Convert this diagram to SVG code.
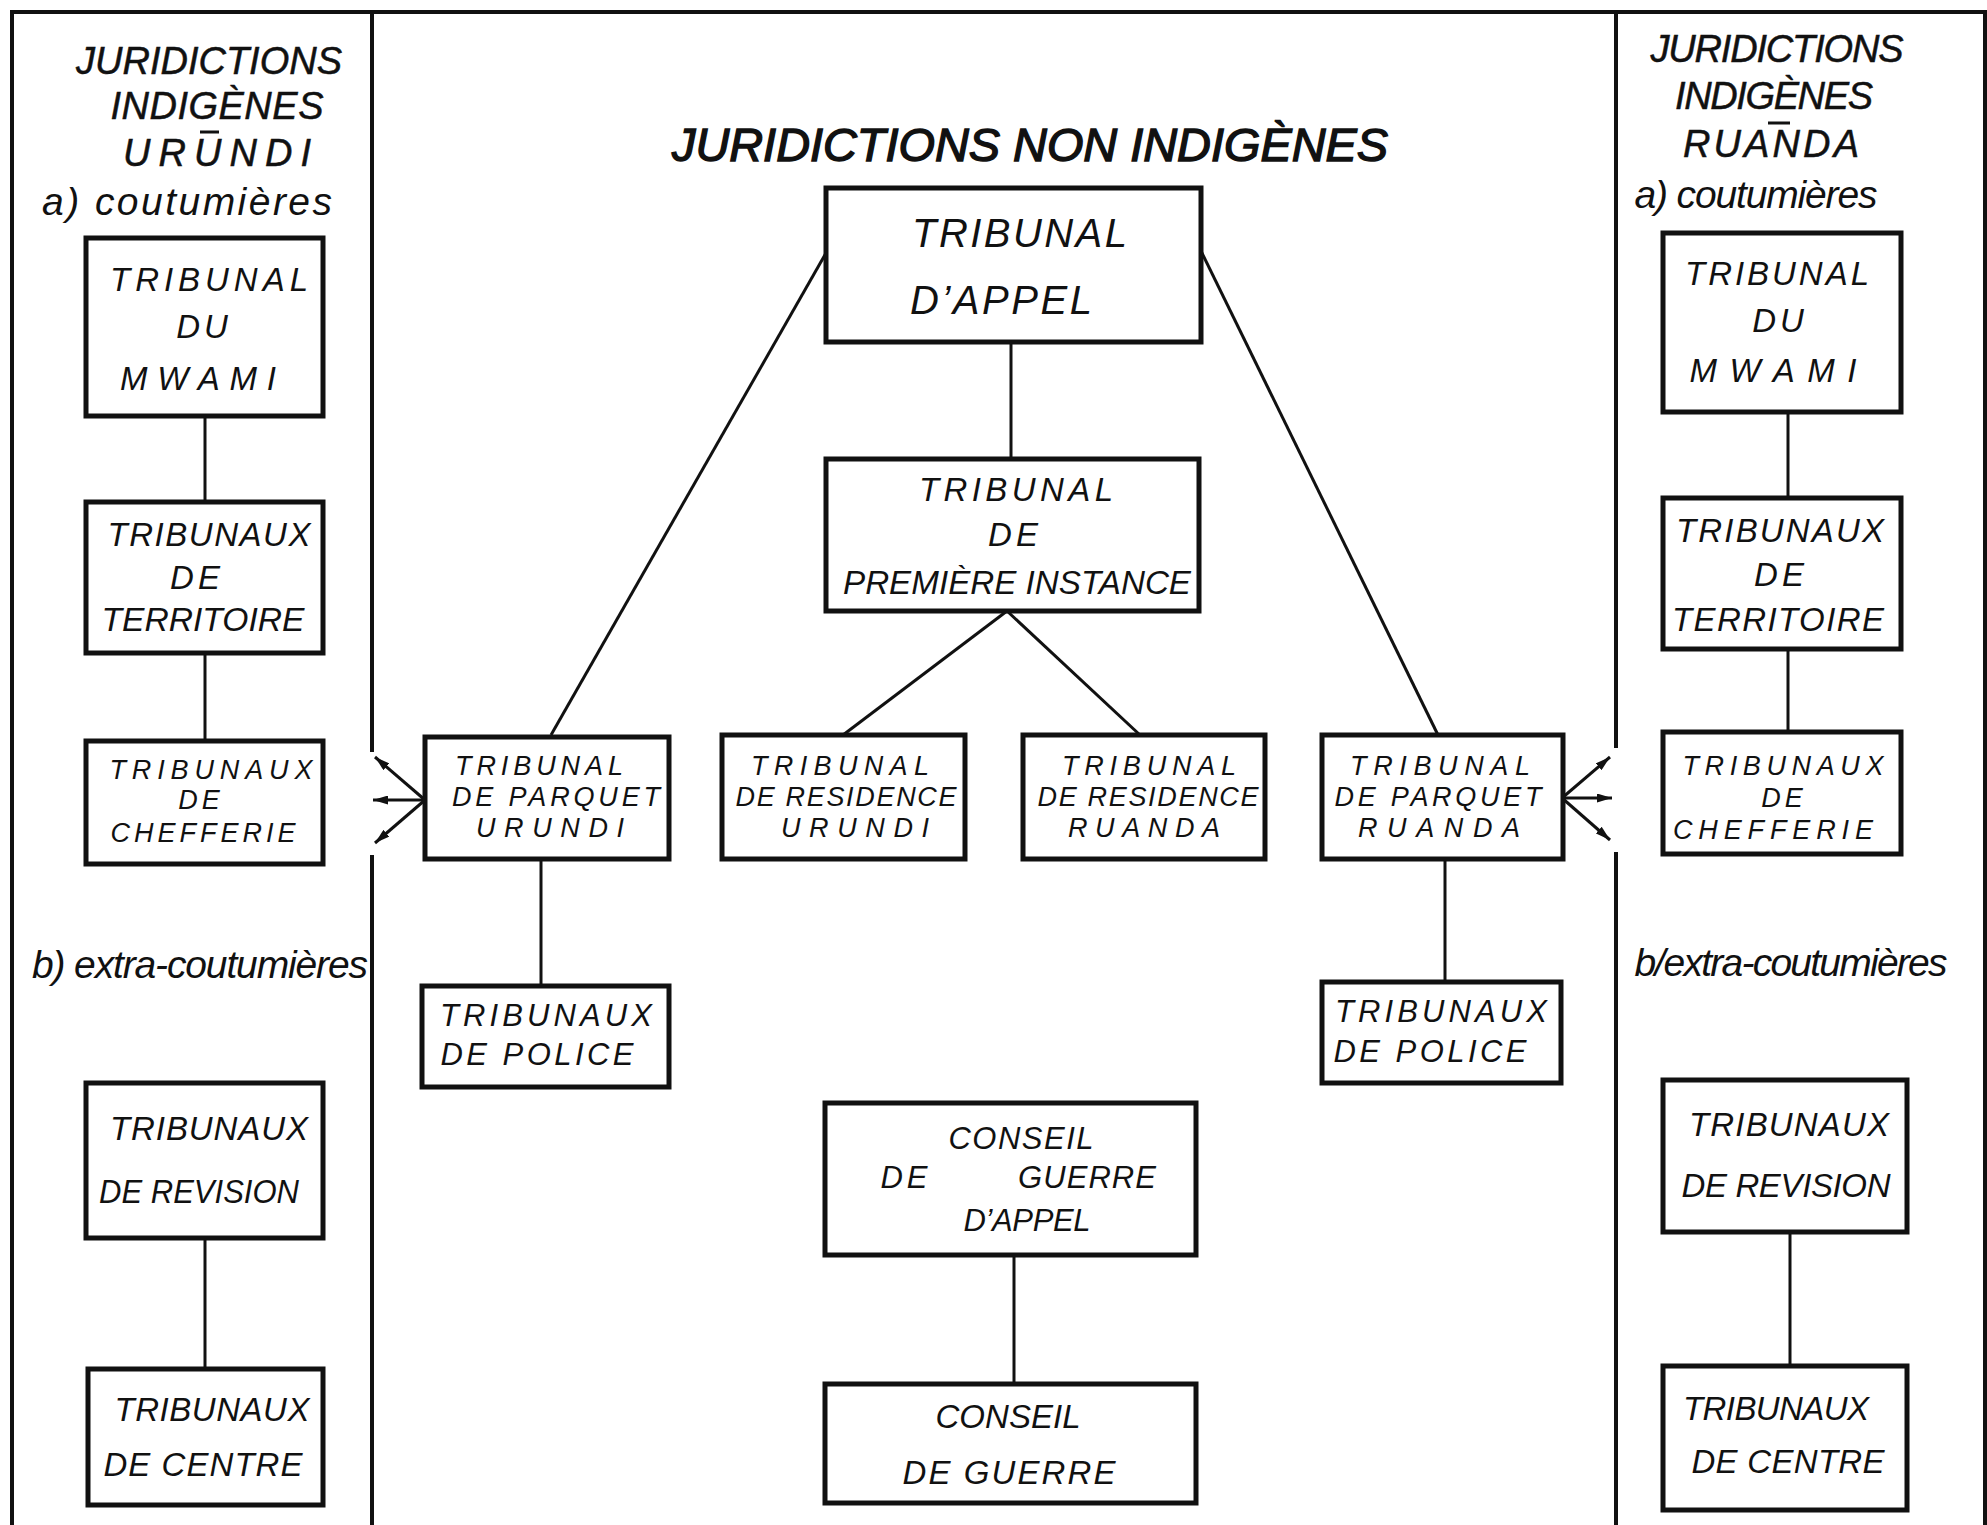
<svg xmlns="http://www.w3.org/2000/svg" width="1987" height="1525" viewBox="0 0 1987 1525">
<style>
.bg{fill:#fff}
.frame{stroke:#111;stroke-width:4;fill:none}
.box{fill:#fff;stroke:#111;stroke-width:5}
.ln{stroke:#111;stroke-width:3;fill:none}
.t{font-family:"Liberation Sans",Arial,sans-serif;font-style:italic;font-size:33px;fill:#111;text-anchor:middle}
.c{font-size:27px}
.m{font-size:31px}
.s{letter-spacing:4px}
.tb{font-size:40px;text-anchor:start}
.title{font-family:"Liberation Sans",Arial,sans-serif;font-style:italic;font-size:46px;fill:#111;text-anchor:middle;stroke:#111;stroke-width:1.4}
.ct{font-family:"Liberation Sans",Arial,sans-serif;font-style:italic;font-size:38px;fill:#111;text-anchor:middle;stroke:#111;stroke-width:0.5}
.lc{font-family:"Liberation Sans",Arial,sans-serif;font-style:italic;font-size:39px;fill:#111;text-anchor:middle}
</style>
<defs>
<marker id="ah" viewBox="0 0 10 6" refX="10" refY="3" markerWidth="5" markerHeight="3" orient="auto" markerUnits="strokeWidth">
<path d="M0,0 L10,3 L0,6 Z" fill="#111"/>
</marker>
</defs>
<rect class="bg" x="0" y="0" width="1987" height="1525"/>

<g id="frame">
<path class="frame" d="M12,1525 V12 H1985 V1525"/>
<path class="frame" d="M372,12 V752 M372,855 V1525"/>
<path class="frame" d="M1616,12 V748 M1616,852 V1525"/>
</g>

<g id="headings">
<text class="title" x="1030" y="161" textLength="716" lengthAdjust="spacingAndGlyphs">JURIDICTIONS NON INDIGÈNES</text>
<text class="ct" x="209" y="74" textLength="266">JURIDICTIONS</text>
<text class="ct" x="217" y="119" textLength="213">INDIGÈNES</text>
<line class="ln" x1="200" y1="132" x2="219" y2="132" stroke-width="2.5"/>
<text class="ct" x="217" y="166" textLength="188">URUNDI</text>
<text class="lc" x="187" y="215" textLength="290">a) coutumières</text>
<text class="lc" x="200" y="978" font-size="36" textLength="336">b) extra-coutumières</text>
<text class="ct" x="1777" y="62" textLength="253">JURIDICTIONS</text>
<text class="ct" x="1774" y="109" textLength="198">INDIGÈNES</text>
<line class="ln" x1="1768" y1="123" x2="1790" y2="123" stroke-width="2.5"/>
<text class="ct" x="1771" y="157" textLength="176">RUANDA</text>
<text class="lc" x="1756" y="208" textLength="243">a) coutumières</text>
<text class="lc" x="1791" y="976" font-size="35" textLength="313">b/extra-coutumières</text>
</g>

<g id="connectors">
<line class="ln" x1="205" y1="416" x2="205" y2="502"/>
<line class="ln" x1="205" y1="653" x2="205" y2="741"/>
<line class="ln" x1="205" y1="1238" x2="205" y2="1369"/>
<line class="ln" x1="1788" y1="412" x2="1788" y2="498"/>
<line class="ln" x1="1788" y1="649" x2="1788" y2="732"/>
<line class="ln" x1="1790" y1="1232" x2="1790" y2="1366"/>
<line class="ln" x1="1011" y1="342" x2="1011" y2="459"/>
<line class="ln" x1="1007" y1="611" x2="843" y2="735"/>
<line class="ln" x1="1007" y1="611" x2="1140" y2="735"/>
<line class="ln" x1="826" y1="253" x2="551" y2="735"/>
<line class="ln" x1="1201" y1="251" x2="1438" y2="735"/>
<line class="ln" x1="541" y1="859" x2="541" y2="986"/>
<line class="ln" x1="1445" y1="859" x2="1445" y2="982"/>
<line class="ln" x1="1014" y1="1255" x2="1014" y2="1384"/>
<line class="ln" x1="425" y1="800" x2="375" y2="757" marker-end="url(#ah)"/>
<line class="ln" x1="425" y1="800" x2="373" y2="800" marker-end="url(#ah)"/>
<line class="ln" x1="425" y1="800" x2="375" y2="843" marker-end="url(#ah)"/>
<line class="ln" x1="1562" y1="798" x2="1610" y2="757" marker-end="url(#ah)"/>
<line class="ln" x1="1562" y1="798" x2="1612" y2="798" marker-end="url(#ah)"/>
<line class="ln" x1="1562" y1="798" x2="1610" y2="840" marker-end="url(#ah)"/>
</g>

<g id="n-mwami-urundi">
<rect class="box" x="86" y="238" width="237" height="178"/>
<text class="t" x="209" y="291" textLength="198">TRIBUNAL</text>
<text class="t s" x="204" y="338">DU</text>
<text class="t" x="198" y="390" textLength="156">MWAMI</text>
</g>
<g id="n-territoire-urundi">
<rect class="box" x="86" y="502" width="237" height="151"/>
<text class="t" x="209" y="546" textLength="203">TRIBUNAUX</text>
<text class="t s" x="197" y="589">DE</text>
<text class="t" x="203" y="631" textLength="203" lengthAdjust="spacingAndGlyphs">TERRITOIRE</text>
</g>
<g id="n-chefferie-urundi">
<rect class="box" x="86" y="741" width="237" height="123"/>
<text class="t c" x="211" y="779" textLength="203">TRIBUNAUX</text>
<text class="t c s" x="201" y="809">DE</text>
<text class="t c" x="203" y="842" textLength="185">CHEFFERIE</text>
</g>
<g id="n-revision-urundi">
<rect class="box" x="86" y="1083" width="237" height="155"/>
<text class="t" x="209" y="1140" textLength="198">TRIBUNAUX</text>
<text class="t" x="199" y="1203" textLength="200" lengthAdjust="spacingAndGlyphs">DE REVISION</text>
</g>
<g id="n-centre-urundi">
<rect class="box" x="88" y="1369" width="235" height="136"/>
<text class="t" x="212" y="1421" textLength="195">TRIBUNAUX</text>
<text class="t" x="203" y="1476" textLength="199">DE CENTRE</text>
</g>

<g id="n-mwami-ruanda">
<rect class="box" x="1663" y="233" width="238" height="179"/>
<text class="t" x="1777" y="285" textLength="184">TRIBUNAL</text>
<text class="t s" x="1780" y="332">DU</text>
<text class="t" x="1773" y="382" textLength="167">MWAMI</text>
</g>
<g id="n-territoire-ruanda">
<rect class="box" x="1663" y="498" width="238" height="151"/>
<text class="t" x="1780" y="542" textLength="208">TRIBUNAUX</text>
<text class="t s" x="1781" y="586">DE</text>
<text class="t" x="1778" y="631" textLength="212">TERRITOIRE</text>
</g>
<g id="n-chefferie-ruanda">
<rect class="box" x="1663" y="732" width="238" height="122"/>
<text class="t c" x="1783" y="775" textLength="201">TRIBUNAUX</text>
<text class="t c s" x="1784" y="807">DE</text>
<text class="t c" x="1773" y="839" textLength="200">CHEFFERIE</text>
</g>
<g id="n-revision-ruanda">
<rect class="box" x="1663" y="1080" width="244" height="152"/>
<text class="t" x="1789" y="1136" textLength="200">TRIBUNAUX</text>
<text class="t" x="1786" y="1197" textLength="209">DE REVISION</text>
</g>
<g id="n-centre-ruanda">
<rect class="box" x="1663" y="1366" width="244" height="144"/>
<text class="t" x="1776" y="1420" textLength="186">TRIBUNAUX</text>
<text class="t" x="1788" y="1473" textLength="193">DE CENTRE</text>
</g>

<g id="n-appel">
<rect class="box" x="826" y="188" width="375" height="154"/>
<text class="t tb" x="912" y="247" textLength="215">TRIBUNAL</text>
<text class="t tb" x="910" y="314" textLength="182">D’APPEL</text>
</g>
<g id="n-premiere">
<rect class="box" x="826" y="459" width="373" height="152"/>
<text class="t" x="1016" y="501" textLength="194">TRIBUNAL</text>
<text class="t s" x="1015" y="546">DE</text>
<text class="t" x="1017" y="594" textLength="348" lengthAdjust="spacingAndGlyphs">PREMIÈRE INSTANCE</text>
</g>
<g id="n-parquet-urundi">
<rect class="box" x="425" y="737" width="244" height="122"/>
<text class="t c" x="539" y="775" textLength="168">TRIBUNAL</text>
<text class="t c" x="556" y="806" textLength="208">DE PARQUET</text>
<text class="t c" x="550" y="837" textLength="148">URUNDI</text>
</g>
<g id="n-residence-urundi">
<rect class="box" x="722" y="735" width="243" height="124"/>
<text class="t c" x="840" y="775" textLength="178">TRIBUNAL</text>
<text class="t c" x="846" y="806" textLength="221">DE RESIDENCE</text>
<text class="t c" x="855" y="837" textLength="148">URUNDI</text>
</g>
<g id="n-residence-ruanda">
<rect class="box" x="1023" y="735" width="242" height="124"/>
<text class="t c" x="1149" y="775" textLength="174">TRIBUNAL</text>
<text class="t c" x="1148" y="806" textLength="221">DE RESIDENCE</text>
<text class="t c" x="1144" y="837" textLength="152">RUANDA</text>
</g>
<g id="n-parquet-ruanda">
<rect class="box" x="1322" y="735" width="241" height="124"/>
<text class="t c" x="1440" y="775" textLength="180">TRIBUNAL</text>
<text class="t c" x="1438" y="806" textLength="207">DE PARQUET</text>
<text class="t c" x="1439" y="837" textLength="162">RUANDA</text>
</g>
<g id="n-police-urundi">
<rect class="box" x="422" y="986" width="247" height="101"/>
<text class="t m" x="546" y="1026" textLength="212">TRIBUNAUX</text>
<text class="t m" x="537" y="1065" textLength="193">DE POLICE</text>
</g>
<g id="n-police-ruanda">
<rect class="box" x="1322" y="982" width="239" height="101"/>
<text class="t m" x="1441" y="1022" textLength="212">TRIBUNAUX</text>
<text class="t m" x="1430" y="1062" textLength="193">DE POLICE</text>
</g>
<g id="n-cdg-appel">
<rect class="box" x="825" y="1103" width="371" height="152"/>
<text class="t m" x="1021" y="1149" textLength="145">CONSEIL</text>
<text class="t m s" x="906" y="1188">DE</text>
<text class="t m" x="1087" y="1188" textLength="138">GUERRE</text>
<text class="t m" x="1027" y="1231" textLength="127">D’APPEL</text>
</g>
<g id="n-cdg">
<rect class="box" x="825" y="1384" width="371" height="119"/>
<text class="t" x="1008" y="1428" textLength="145">CONSEIL</text>
<text class="t" x="1009" y="1484" textLength="213">DE GUERRE</text>
</g>
</svg>
